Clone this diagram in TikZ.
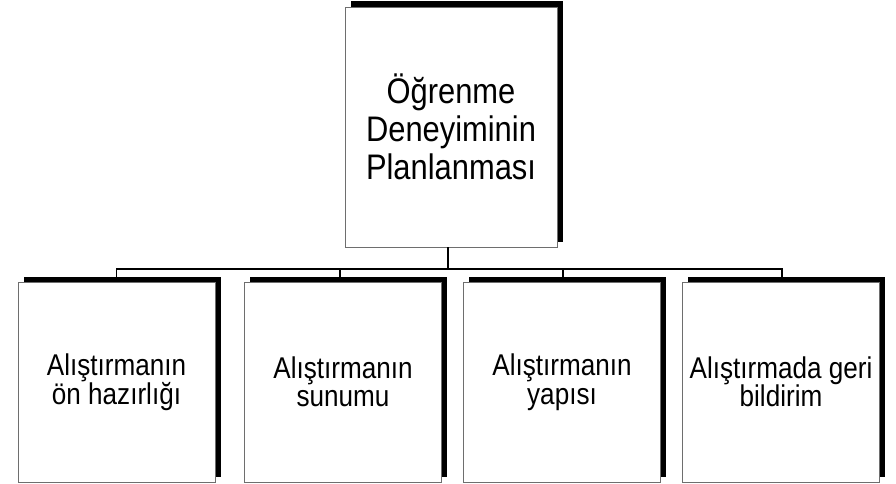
\documentclass[tikz,border=0pt]{standalone}
\usepackage{fontspec}
\setmainfont{Liberation Sans}
\newfontfamily\tallfont[FakeStretch=0.87]{Liberation Sans}
\usetikzlibrary{shadows}
\definecolor{boxline}{RGB}{110,110,110}
\tikzset{
  boxbase/.style={draw=boxline, line width=0.9pt, fill=white, align=center, inner sep=0pt,
    general shadow={fill=black, shadow xshift=5.5pt, shadow yshift=5.5pt}},
  topbox/.style={boxbase, minimum width=212pt, minimum height=240pt,
    font=\tallfont\fontsize{35.5}{38}\selectfont},
  subbox/.style={boxbase, minimum width=197pt, minimum height=200pt,
    font=\tallfont\fontsize{30}{28.5}\selectfont},
  conn/.style={draw=black, line width=1.6pt}
}
\begin{document}
\begin{tikzpicture}[x=1pt, y=1pt]
\useasboundingbox (0,0) rectangle (896,-484);
\fill[white] (0,0) rectangle (896,-484);
% connectors first
\coordinate (jn) at (448,-269);
\node[topbox] (top) at (451,-127) {Öğrenme\\Deneyiminin\\Planlanması};
\coordinate (d1) at (116.5,-282);
\coordinate (d2) at (340,-282);
\coordinate (d3) at (563,-282);
\coordinate (d4) at (782,-282);
\draw[conn] (top.south -| jn) -- (jn);
\draw[conn] (d1) |- (jn -| d4) -- (d4);
\draw[conn] (jn -| d2) -- (d2);
\draw[conn] (jn -| d3) -- (d3);
\node[subbox] (b1) at (116.5,-382) {Alıştırmanın\\ön hazırlığı};
\node[subbox] (b2) at (343,-382) {Alıştırmanın\\sunumu};
\node[subbox] (b3) at (562,-382) {Alıştırmanın\\yapısı};
\node[subbox] (b4) at (781,-382) {Alıştırmada geri\\bildirim};
\end{tikzpicture}
\end{document}
